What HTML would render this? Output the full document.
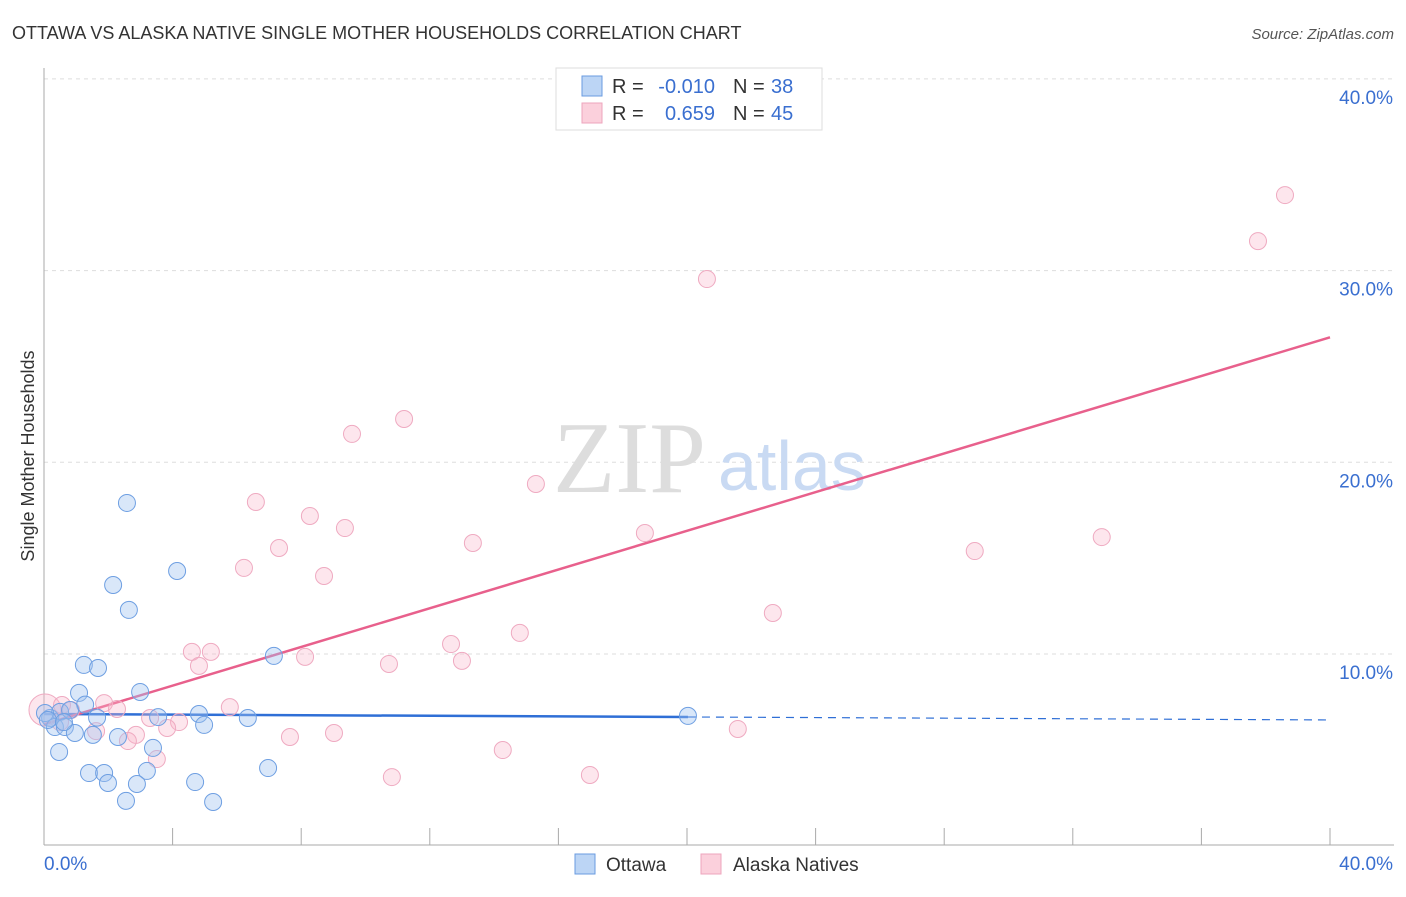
<!DOCTYPE html>
<html><head><meta charset="utf-8"><style>
body{margin:0;background:#fff;font-family:"Liberation Sans",sans-serif;}
svg text{font-family:"Liberation Sans",sans-serif;}
</style></head><body>
<svg width="1406" height="892" viewBox="0 0 1406 892">
<text x="12" y="39" font-size="18" fill="#333">OTTAWA VS ALASKA NATIVE SINGLE MOTHER HOUSEHOLDS CORRELATION CHART</text>
<text x="1394" y="39" font-size="15" fill="#555" font-style="italic" text-anchor="end">Source: ZipAtlas.com</text>
<g id="grid"></g>
<g id="axes"></g>
<text x="553" y="492" font-size="102" fill="#ddd" style="font-family:'Liberation Serif',serif">ZIP</text>
<text x="718" y="490" font-size="70" fill="#c9daf3">atlas</text>
<g id="trend"></g>
<g id="points"></g>
<text transform="translate(34,456) rotate(-90)" font-size="18" fill="#333" text-anchor="middle">Single Mother Households</text>
<g>
<rect x="556" y="68" width="266" height="62" fill="#fff" stroke="#ddd"/>
<rect x="582" y="76" width="20" height="20" fill="#bcd5f5" stroke="#6a9be0"/>
<rect x="582" y="103" width="20" height="20" fill="#fbd0dc" stroke="#eea5bd"/>
<text x="612" y="93" font-size="20" fill="#333">R =</text>
<text x="715" y="93" font-size="20" fill="#3a6fd0" text-anchor="end">-0.010</text>
<text x="733" y="93" font-size="20" fill="#333">N =</text>
<text x="771" y="93" font-size="20" fill="#3a6fd0">38</text>
<text x="612" y="120" font-size="20" fill="#333">R =</text>
<text x="715" y="120" font-size="20" fill="#3a6fd0" text-anchor="end">0.659</text>
<text x="733" y="120" font-size="20" fill="#333">N =</text>
<text x="771" y="120" font-size="20" fill="#3a6fd0">45</text>
</g>
<g>
<rect x="575" y="854" width="20" height="20" fill="#bcd5f5" stroke="#6a9be0"/>
<text x="606" y="871" font-size="19" fill="#333">Ottawa</text>
<rect x="701" y="854" width="20" height="20" fill="#fbd0dc" stroke="#eea5bd"/>
<text x="733" y="871" font-size="19" fill="#333">Alaska Natives</text>
</g>
</svg>
<script>
const ottawaX=[2.58,4.14,2.15,2.64,1.24,1.68,7.15,1.09,2.99,1.28,1.65,3.55,4.82,4.98,6.34,20.03,0.19,0.50,0.81,0.34,0.65,0.96,1.52,2.30,3.39,0.47,1.40,1.87,1.99,3.20,2.89,4.70,6.97,2.55,5.26,0.03,0.12,0.62];
const ottawaY=[17.88,14.33,13.60,12.30,9.43,9.27,9.90,7.97,8.02,7.36,6.68,6.71,6.87,6.30,6.66,6.77,6.66,6.98,7.08,6.19,6.19,5.88,5.78,5.67,5.10,4.89,3.79,3.79,3.27,3.90,3.22,3.32,4.05,2.34,2.28,6.92,6.56,6.45];
const alaskaX=[38.60,37.76,20.62,11.20,9.58,15.30,6.59,8.27,9.36,13.34,18.69,7.31,6.22,8.71,32.90,28.95,22.67,14.80,12.66,13.00,4.60,5.19,4.82,8.12,10.73,1.87,2.27,5.78,3.30,4.20,3.83,2.86,2.61,1.62,7.65,9.02,3.51,14.27,10.82,16.98,21.58,0.84,0.50,0.03,0.56];
const alaskaY=[33.94,31.54,29.56,22.26,21.48,18.87,17.93,17.20,16.57,15.79,16.31,15.53,14.49,14.07,16.10,15.37,12.14,11.10,10.52,9.64,10.11,10.11,9.38,9.85,9.48,7.44,7.13,7.23,6.66,6.45,6.14,5.78,5.46,5.98,5.67,5.88,4.52,4.99,3.58,3.69,6.09,7.08,6.45,7.08,7.34];
const alaskaR=[8.5,8.5,8.5,8.5,8.5,8.5,8.5,8.5,8.5,8.5,8.5,8.5,8.5,8.5,8.5,8.5,8.5,8.5,8.5,8.5,8.5,8.5,8.5,8.5,8.5,8.5,8.5,8.5,8.5,8.5,8.5,8.5,8.5,8.5,8.5,8.5,8.5,8.5,8.5,8.5,8.5,8.5,8.5,16,8.5];
const yTicks=[10,20,30,40];
const yTickLabels=["10.0%","20.0%","30.0%","40.0%"];
const xTicks=[0,4,8,12,16,20,24,28,32,36,40];
const ottawaTrend=[6.87,6.56]; // y at x=0 and x=40
const ottawaSolidEnd=20.03;
const alaskaTrend=[6.33,26.52];
const NS="http://www.w3.org/2000/svg";
const sx=v=>44+v/40*1286, sy=v=>845.7-v*19.17;
function mk(tag,attrs,parent){const e=document.createElementNS(NS,tag);for(const k in attrs)e.setAttribute(k,attrs[k]);document.getElementById(parent).appendChild(e);return e;}
yTicks.forEach((t,i)=>{
 const l=mk('line',{x1:44,x2:1394,y1:sy(t),y2:sy(t),stroke:'#ddd','stroke-dasharray':'4,4'},'grid');
 
 
 const tx=mk('text',{x:1393,y:sy(t)+25,'font-size':19,fill:'#3a6fd0','text-anchor':'end'},'axes');
 tx.textContent=yTickLabels[i];
 
 
});
const ax=mk('line',{x1:44,x2:44,y1:68,y2:845,stroke:'#aaa'},'axes');


const bx=mk('line',{x1:44,x2:1394,y1:845,y2:845,stroke:'#aaa'},'axes');


xTicks.forEach(t=>{const l=mk('line',{x1:sx(t),x2:sx(t),y1:828,y2:845,stroke:'#aaa'},'axes');
 
 });
[[0,'0.0%',44,'start'],[40,'40.0%',1393,'end']].forEach(a=>{const t=mk('text',{x:a[2],y:870,'font-size':19,fill:'#3a6fd0','text-anchor':a[3]},'axes');t.textContent=a[1];
 
 });
function pt(x,y,r,fill,stroke){const c=mk('circle',{cx:sx(x),cy:sy(y),r:r,fill:fill,stroke:stroke,'stroke-width':1},'points');return c;}
alaskaX.forEach((x,i)=>{const c=pt(x,alaskaY[i],alaskaR[i],'rgba(248,182,202,0.35)','#efaac1');
 
 });
ottawaX.forEach((x,i)=>{const c=pt(x,ottawaY[i],8.5,'rgba(160,196,240,0.4)','#6e9fe2');
 
 });
const oy=x=>ottawaTrend[0]+(ottawaTrend[1]-ottawaTrend[0])*x/40;
const l1=mk('line',{x1:sx(0),y1:sy(oy(0)),x2:sx(ottawaSolidEnd),y2:sy(oy(ottawaSolidEnd)),stroke:'#2f6fd6','stroke-width':2.5},'trend');


const l2=mk('line',{x1:sx(ottawaSolidEnd),y1:sy(oy(ottawaSolidEnd)),x2:sx(40),y2:sy(oy(40)),stroke:'#2f6fd6','stroke-width':1.2,'stroke-dasharray':'8,6'},'trend');


const l3=mk('line',{x1:sx(0),y1:sy(alaskaTrend[0]),x2:sx(40),y2:sy(alaskaTrend[1]),stroke:'#e8608c','stroke-width':2.5},'trend');


</script>
</body></html>
